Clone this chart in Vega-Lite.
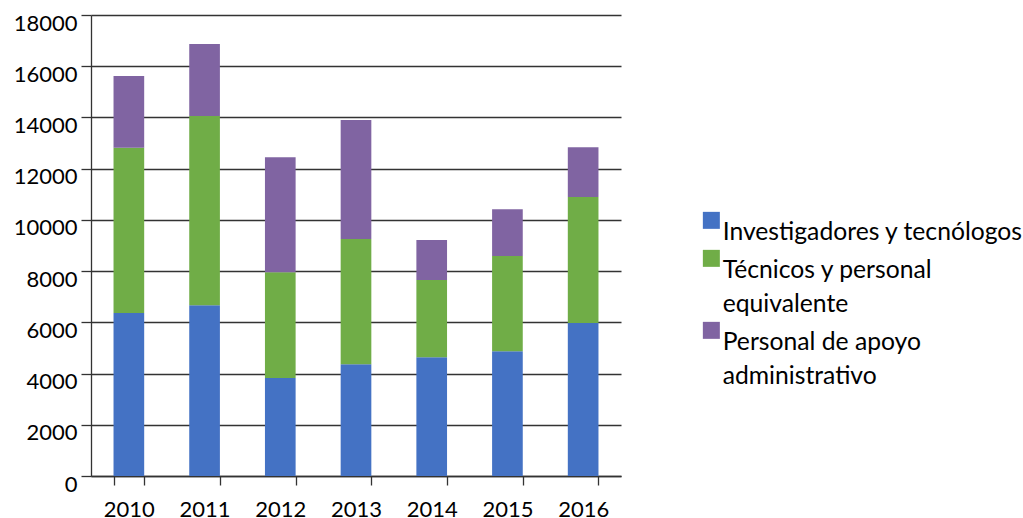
{
  "$schema": "https://vega.github.io/schema/vega-lite/v6.json",
  "width": 530,
  "height": 461,
  "autosize": {"type": "none"},
  "padding": {"left": 91, "top": 15, "right": 402, "bottom": 42},
  "config": {
    "view": {"stroke": null},
    "font": "Lato",
    "style": {"guide-label": {"lineHeight": 34}}
  },
  "data": {
    "values": [
      {"year": "2010", "cat": "Investigadores y tecnólogos", "k": 1, "value": 6360},
      {"year": "2010", "cat": "Técnicos y personal equivalente", "k": 2, "value": 6460},
      {"year": "2010", "cat": "Personal de apoyo administrativo", "k": 3, "value": 2800},
      {"year": "2011", "cat": "Investigadores y tecnólogos", "k": 1, "value": 6670},
      {"year": "2011", "cat": "Técnicos y personal equivalente", "k": 2, "value": 7390},
      {"year": "2011", "cat": "Personal de apoyo administrativo", "k": 3, "value": 2810},
      {"year": "2012", "cat": "Investigadores y tecnólogos", "k": 1, "value": 3830},
      {"year": "2012", "cat": "Técnicos y personal equivalente", "k": 2, "value": 4130},
      {"year": "2012", "cat": "Personal de apoyo administrativo", "k": 3, "value": 4490},
      {"year": "2013", "cat": "Investigadores y tecnólogos", "k": 1, "value": 4360},
      {"year": "2013", "cat": "Técnicos y personal equivalente", "k": 2, "value": 4890},
      {"year": "2013", "cat": "Personal de apoyo administrativo", "k": 3, "value": 4650},
      {"year": "2014", "cat": "Investigadores y tecnólogos", "k": 1, "value": 4640},
      {"year": "2014", "cat": "Técnicos y personal equivalente", "k": 2, "value": 3010},
      {"year": "2014", "cat": "Personal de apoyo administrativo", "k": 3, "value": 1560},
      {"year": "2015", "cat": "Investigadores y tecnólogos", "k": 1, "value": 4870},
      {"year": "2015", "cat": "Técnicos y personal equivalente", "k": 2, "value": 3720},
      {"year": "2015", "cat": "Personal de apoyo administrativo", "k": 3, "value": 1830},
      {"year": "2016", "cat": "Investigadores y tecnólogos", "k": 1, "value": 5970},
      {"year": "2016", "cat": "Técnicos y personal equivalente", "k": 2, "value": 4920},
      {"year": "2016", "cat": "Personal de apoyo administrativo", "k": 3, "value": 1950}
    ]
  },
  "mark": {"type": "bar"},
  "encoding": {
    "x": {
      "field": "year",
      "type": "ordinal",
      "scale": {"paddingInner": 0.595, "paddingOuter": 0.2975},
      "axis": {
        "title": null,
        "labelAngle": 0,
        "tickBand": "extent",
        "labelFontSize": 22,
        "labelColor": "#000000",
        "labelPadding": 14,
        "tickSize": 9,
        "tickColor": "#333333",
        "tickWidth": 1.3,
        "domainColor": "#333333",
        "domainWidth": 1.3,
        "grid": false
      }
    },
    "y": {
      "field": "value",
      "type": "quantitative",
      "stack": "zero",
      "scale": {"domain": [0, 18000], "nice": false},
      "axis": {
        "title": null,
        "values": [0, 2000, 4000, 6000, 8000, 10000, 12000, 14000, 16000, 18000],
        "format": "d",
        "labelOverlap": false,
        "labelFlush": false,
        "labelFontSize": 22,
        "labelColor": "#000000",
        "labelOffset": 8,
        "labelPadding": 4,
        "tickSize": 10,
        "tickColor": "#333333",
        "tickWidth": 1.3,
        "domainColor": "#333333",
        "domainWidth": 1.3,
        "grid": true,
        "gridColor": "#333333",
        "gridWidth": 1.3,
        "gridOpacity": 1
      }
    },
    "color": {
      "field": "cat",
      "type": "nominal",
      "sort": ["Investigadores y tecnólogos", "Técnicos y personal equivalente", "Personal de apoyo administrativo"],
      "scale": {
        "domain": ["Investigadores y tecnólogos", "Técnicos y personal equivalente", "Personal de apoyo administrativo"],
        "range": ["#4472C4", "#70AD47", "#8064A2"]
      },
      "legend": {
        "orient": "none",
        "legendX": 608,
        "legendY": 193,
        "title": null,
        "padding": 0,
        "symbolType": "square",
        "symbolSize": 289,
        "symbolStrokeWidth": 0,
        "labelFontSize": 24.7,
        "labelFont": "Lato",
        "labelColor": "#000000",
        "labelLimit": 400,
        "labelOffset": -1,
        "labelBaseline": "top",
        "rowPadding": 0,
        "labelExpr": "datum.label == 'Técnicos y personal equivalente' ? ['Técnicos y personal', 'equivalente'] : datum.label == 'Personal de apoyo administrativo' ? ['Personal de apoyo', 'administrativo'] : datum.label"
      }
    },
    "order": {"field": "k", "type": "quantitative"}
  }
}
